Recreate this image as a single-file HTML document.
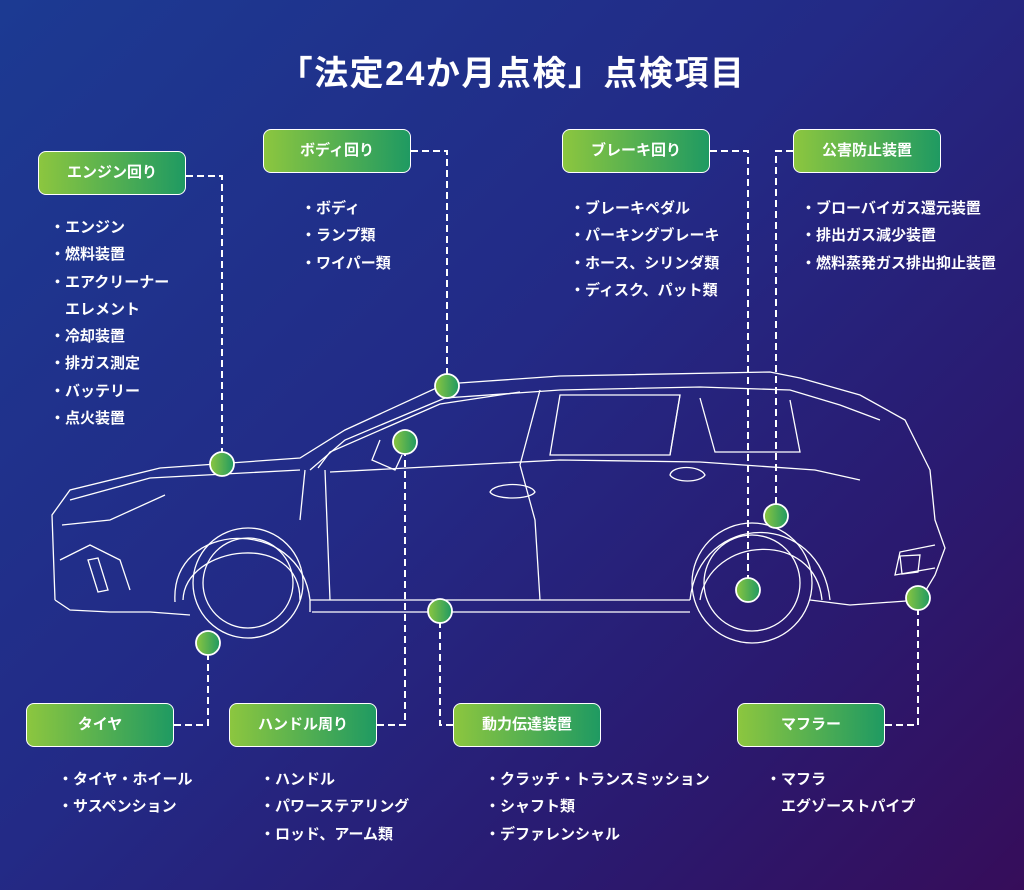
<!DOCTYPE html>
<html><head><meta charset="utf-8"><style>
body{margin:0;width:1024px;height:890px;overflow:hidden;font-family:"Liberation Sans","Noto Sans CJK JP",sans-serif;background:linear-gradient(135deg,#1c3a92 0%,#232a86 45%,#2a1a70 75%,#360d5a 100%);position:relative;color:#fff}
.t{position:absolute;top:46px;left:0;width:1024px;text-align:center;font-size:34px;font-weight:bold;letter-spacing:1.5px}
.b{position:absolute;width:146px;height:42px;border:1.5px solid #fff;border-radius:8px;background:linear-gradient(90deg,#8cc63f,#1f9a62);font-size:15px;font-weight:bold;line-height:42px;text-align:center}
.l{position:absolute;font-size:15px;font-weight:bold;line-height:27.3px;white-space:pre}
svg{position:absolute;left:0;top:0}
</style></head><body>
<div class="t">「法定24か月点検」点検項目</div>
<svg width="1024" height="890" fill="none" stroke="#fff" stroke-width="1.3">
<defs><linearGradient id="g" x1="0" x2="1"><stop offset="0" stop-color="#8cc63f"/><stop offset="1" stop-color="#1f9a62"/></linearGradient></defs>
<path d="M55,600 L52,515 L70,490 L160,468 L300,458 L345,430 L445,384 L560,376 L770,372 L800,378 L860,395 L905,420 L930,470 L935,520 L945,548 L935,575 L920,600 L850,605 L810,600"/>
<path d="M55,600 L70,610 L110,612 L150,612 L190,615"/>
<path d="M310,470 L345,440 L445,398 L560,390 L700,387 L790,390 L840,405 L880,420"/>
<path d="M318,468 L330,452 L440,404 L520,392"/>
<path d="M310,600 L690,600 M312,612 L690,612 M310,612 L310,600"/>
<path d="M330,472 L560,460 L700,462 L815,470 L860,480"/>
<path d="M540,390 L520,465 L535,520 L540,600 M680,395 L670,455"/>
<path d="M560,395 L550,455 L670,455 L680,395 Z M700,398 L715,452 L800,452 L790,400"/>
<path d="M325,470 L330,600 M305,470 L300,520"/>
<path d="M70,500 L150,478 L300,470 M62,525 L110,520 L165,495 M60,560 L90,545 L120,560 L130,590"/>
<path d="M88,560 L98,558 L108,590 L98,592 Z"/>
<path d="M935,545 L900,552 L895,575 L935,568 M900,556 L920,555 L918,572 L902,574 Z"/>
<path d="M175,602 C170,520 300,515 310,600"/>
<path d="M183,600 C185,545 300,530 300,600"/>
<path d="M690,600 C700,510 820,510 830,600"/>
<path d="M700,600 C710,535 815,530 822,600"/>
<circle cx="248" cy="583" r="55"/><circle cx="248" cy="583" r="45"/>
<circle cx="752" cy="583" r="60"/><circle cx="752" cy="583" r="48"/>
<path d="M490,492 C495,482 530,482 535,492 C530,500 495,500 490,492 Z M670,475 C672,465 700,465 705,475 C700,483 675,483 670,475Z"/>
<path d="M380,440 L372,460 L395,470 L402,455"/>
<g stroke-width="2" stroke-dasharray="7,4">
<path d="M186,176 H222 V452"/>
<path d="M411,151 H447 V374"/>
<path d="M710,151 H748 V578"/>
<path d="M793,151 H776 V504"/>
<path d="M174,725 H208 V655"/>
<path d="M377,725 H405 V454"/>
<path d="M453,725 H440 V623"/>
<path d="M885,725 H918 V610"/>
</g>
<g fill="url(#g)" stroke-width="1.8">
<circle cx="222" cy="464" r="12"/><circle cx="447" cy="386" r="12"/><circle cx="405" cy="442" r="12"/>
<circle cx="208" cy="643" r="12"/><circle cx="440" cy="611" r="12"/><circle cx="748" cy="590" r="12"/>
<circle cx="776" cy="516" r="12"/><circle cx="918" cy="598" r="12"/>
</g>
</svg>
<div class="b" style="left:38px;top:151px">エンジン回り</div>
<div class="b" style="left:263px;top:129px">ボディ回り</div>
<div class="b" style="left:562px;top:129px">ブレーキ回り</div>
<div class="b" style="left:793px;top:129px">公害防止装置</div>
<div class="b" style="left:26px;top:703px">タイヤ</div>
<div class="b" style="left:229px;top:703px">ハンドル周り</div>
<div class="b" style="left:453px;top:703px">動力伝達装置</div>
<div class="b" style="left:737px;top:703px">マフラー</div>
<div class="l" style="left:50px;top:214px">・エンジン
・燃料装置
・エアクリーナー
　エレメント
・冷却装置
・排ガス測定
・バッテリー
・点火装置</div>
<div class="l" style="left:301px;top:195px">・ボディ
・ランプ類
・ワイパー類</div>
<div class="l" style="left:570px;top:195px">・ブレーキペダル
・パーキングブレーキ
・ホース、シリンダ類
・ディスク、パット類</div>
<div class="l" style="left:801px;top:195px">・ブローバイガス還元装置
・排出ガス減少装置
・燃料蒸発ガス排出抑止装置</div>
<div class="l" style="left:58px;top:766px">・タイヤ・ホイール
・サスペンション</div>
<div class="l" style="left:260px;top:766px">・ハンドル
・パワーステアリング
・ロッド、アーム類</div>
<div class="l" style="left:485px;top:766px">・クラッチ・トランスミッション
・シャフト類
・デファレンシャル</div>
<div class="l" style="left:766px;top:766px">・マフラ
　エグゾーストパイプ</div>
</body></html>
